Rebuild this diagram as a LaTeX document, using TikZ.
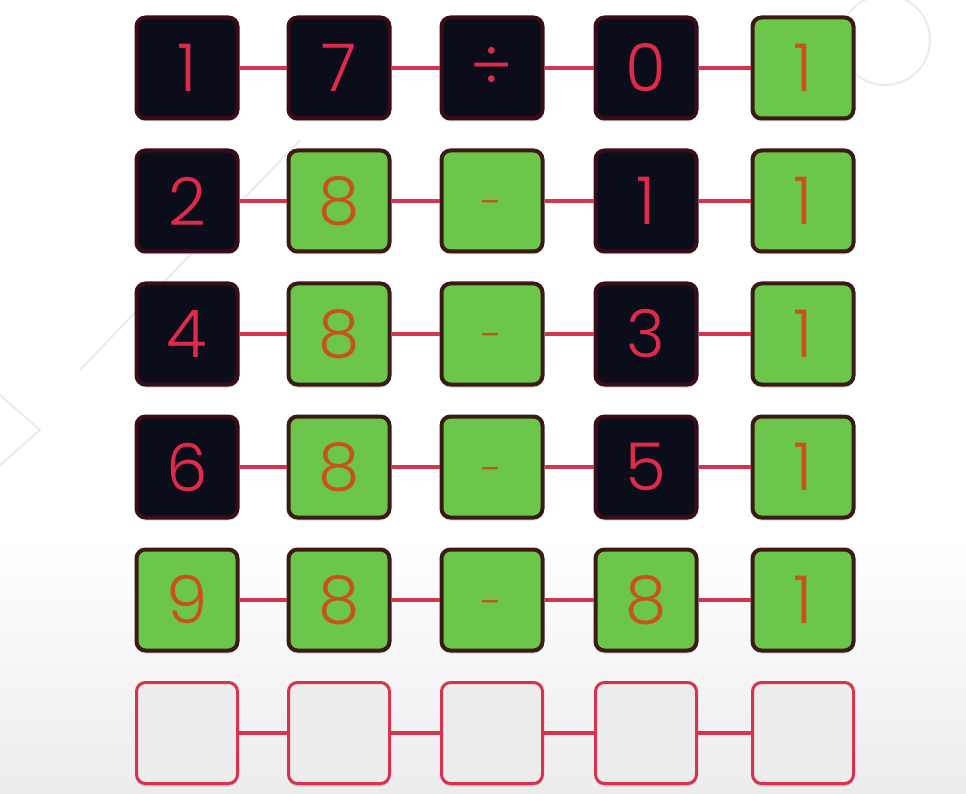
\documentclass[tikz,border=0pt]{standalone}
\usepackage{fontspec}
\setmainfont{Poppins Light}
\usetikzlibrary{shadows}

\definecolor{tiledark}{HTML}{0B0E1A}
\definecolor{darkedge}{HTML}{3A0C18}
\definecolor{tilegreen}{HTML}{6CC64A}
\definecolor{greenedge}{HTML}{3A1A12}
\definecolor{digitred}{HTML}{E02A4C}
\definecolor{digitorange}{HTML}{C9501F}
\definecolor{linkred}{HTML}{D5334F}
\definecolor{tilegray}{HTML}{ECECEC}
\definecolor{bgline}{HTML}{EBEBEB}

\tikzset{
  tile/.style={rounded corners=9pt, minimum width=101pt, minimum height=101pt,
    inner sep=0pt, line width=4pt, font=\fontsize{66}{66}\selectfont,
    drop shadow={opacity=0.3, shadow xshift=0pt, shadow yshift=-3pt}},
  darktile/.style={tile, draw=darkedge, fill=tiledark, text=digitred},
  greentile/.style={tile, draw=greenedge, fill=tilegreen, text=digitorange},
  emptytile/.style={tile, draw=linkred, fill=tilegray, line width=3pt},
  link/.style={draw=linkred, line width=4.5pt}
}
\newcommand{\minus}{\raisebox{-16pt}[0pt][0pt]{\fontsize{40}{40}\selectfont -}}

\begin{document}
\begin{tikzpicture}[x=1pt,y=-1pt]
\useasboundingbox (0,0) rectangle (966,794);
% background
\shade[top color=white, bottom color=tilegray] (0,540) rectangle (966,794);
\draw[bgline, line width=2pt] (885,40) circle (45);
\draw[bgline, line width=2pt] (850,-30) arc (150:250:130);
\draw[bgline, line width=2pt] (80,370) -- (300,140);
\draw[bgline, line width=2pt] (0,395) -- (40,430) -- (0,465);

% row 1
\node[darktile]  (r1c1) at (187,68) {1};
\node[darktile]  (r1c2) at (339,68) {7};
\node[darktile]  (r1c3) at (492,68) {÷};
\node[darktile]  (r1c4) at (646,68) {0};
\node[greentile] (r1c5) at (803,68) {1};
% row 2
\node[darktile]  (r2c1) at (187,201) {2};
\node[greentile] (r2c2) at (339,201) {8};
\node[greentile] (r2c3) at (492,201) {\minus};
\node[darktile]  (r2c4) at (646,201) {1};
\node[greentile] (r2c5) at (803,201) {1};
% row 3
\node[darktile]  (r3c1) at (187,334) {4};
\node[greentile] (r3c2) at (339,334) {8};
\node[greentile] (r3c3) at (492,334) {\minus};
\node[darktile]  (r3c4) at (646,334) {3};
\node[greentile] (r3c5) at (803,334) {1};
% row 4
\node[darktile]  (r4c1) at (187,467) {6};
\node[greentile] (r4c2) at (339,467) {8};
\node[greentile] (r4c3) at (492,467) {\minus};
\node[darktile]  (r4c4) at (646,467) {5};
\node[greentile] (r4c5) at (803,467) {1};
% row 5
\node[greentile] (r5c1) at (187,600) {9};
\node[greentile] (r5c2) at (339,600) {8};
\node[greentile] (r5c3) at (492,600) {\minus};
\node[greentile] (r5c4) at (646,600) {8};
\node[greentile] (r5c5) at (803,600) {1};
% row 6, still empty
\node[emptytile] (r6c1) at (187,733) {};
\node[emptytile] (r6c2) at (339,733) {};
\node[emptytile] (r6c3) at (492,733) {};
\node[emptytile] (r6c4) at (646,733) {};
\node[emptytile] (r6c5) at (803,733) {};

% links
\foreach \row in {1,...,6}
  \foreach \col/\nxt in {1/2,2/3,3/4,4/5}
    \draw[link] (r\row c\col.east) -- (r\row c\nxt.west);
\end{tikzpicture}
\end{document}
